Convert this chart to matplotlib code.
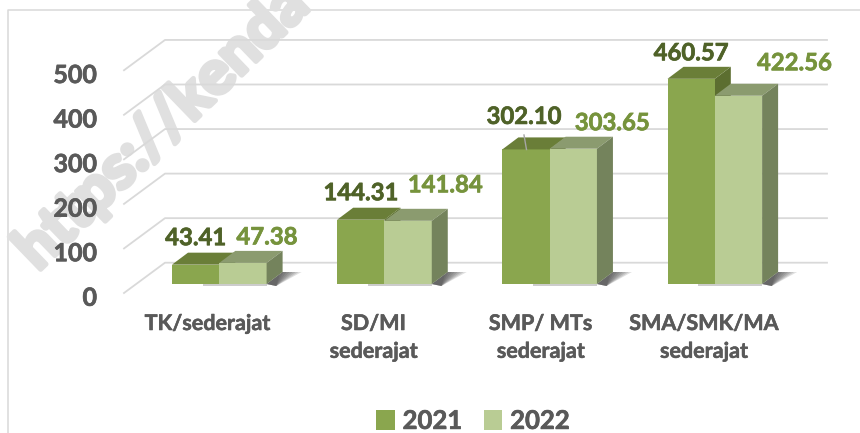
import matplotlib
matplotlib.use("Agg")
import matplotlib.pyplot as plt
import matplotlib.patheffects as pe
from matplotlib.patches import Polygon

plt.rcParams["font.family"] = ["Lato", "DejaVu Sans"]
plt.rcParams["font.weight"] = "bold"

# data
categories = ["TK/sederajat", "SD/MI\nsederajat", "SMP/ MTs\nsederajat", "SMA/SMK/MA\nsederajat"]
values_2021 = [43.41, 144.31, 302.10, 460.57]
values_2022 = [47.38, 141.84, 303.65, 422.56]
y_ticks = [0, 100, 200, 300, 400, 500]

# label offsets from top of bar, in pixels (picked by eye)
offset_2021 = [(0, 27), (0, 27), (-2, 33), (0, 26)]
offset_2022 = [(24, 26), (37, 36), (39, 26), (56, 33)]
cat_shift = [-12, -11, -9, -11]

# colours
C21, C21_TOP, C21_SIDE = "#8AA64E", "#6A7E38", "#5C6E30"
C22, C22_TOP, C22_SIDE = "#B9CC94", "#8B9B6F", "#74835C"
TXT21, TXT22, GREY, GRID = "#4F6228", "#76933C", "#595959", "#D9D9D9"

# scale: one category = 165.17 px, 100 units = 44.55 px
W, H = 860, 433
PX_X = 165.17
PX_Y = 0.4455
X0, Y0 = 219.3, 284.0
BAR_W = 47.3 / PX_X
DX = 16 / PX_X
DY = 12 / PX_Y


def xpx(p):
    return (p - X0) / PX_X


def ypx(p):
    return (Y0 - p) / PX_Y


def heavy(color, lw=0.5):
    # Lato bold comes out lighter than the original, thicken it a bit
    return [pe.withStroke(linewidth=lw, foreground=color)]


fig = plt.figure(figsize=(W / 100, H / 100), dpi=100)
ax = fig.add_axes([0, 0, 1, 1])
ax.set_xlim(xpx(0), xpx(W))
ax.set_ylim(ypx(H), ypx(0))
ax.axis("off")

# outer frame of the chart area
ax.plot([xpx(8), xpx(8), xpx(W)], [ypx(H), ypx(10), ypx(10)], color="#D9D9D9", lw=1.1, zorder=1)

# watermark
ax.text(xpx(38), ypx(272), "https://kenda", fontsize=44, color="#E0E0E0", rotation=44,
        rotation_mode="anchor", ha="left", va="baseline", zorder=1.5,
        path_effects=heavy("#E0E0E0", 3.5))

# back wall + floor lines
front_off = (293 - Y0) / PX_Y
back_off = (Y0 - 262.7) / PX_Y
for v in y_ticks:
    ax.plot([xpx(124), xpx(165), xpx(827)],
            [v - front_off, v + back_off, v + back_off],
            color=GRID, lw=1.3, zorder=2)
    ax.text(xpx(97), v - 32, str(v), fontsize=18, color=GREY, ha="right", va="center", zorder=6,
            path_effects=heavy(GREY))

xs = list(range(len(categories)))

# shadows at the foot of the bars
for i in xs:
    x_end = i + BAR_W
    for k in range(8):
        reach = (35 - k * 3) / PX_X
        ax.add_patch(Polygon([(x_end, 0), (x_end + DX, DY), (x_end + reach, DY), (x_end + DX * 0.6, -2 / PX_Y)],
                             closed=True, fc="#303030", ec="none", alpha=0.15, zorder=2.5))
    ax.fill_between([i - 0.1, x_end], -5, 0, color="#808080", alpha=0.4, lw=0, zorder=2.5)

ax.bar(xs, values_2021, width=-BAR_W, align="edge", color=C21, label="2021", zorder=4)
for i, v in enumerate(values_2021):
    left = i - BAR_W
    ax.add_patch(Polygon([(left, v), (left + DX, v + DY), (i + DX, v + DY), (i, v)],
                         closed=True, fc=C21_TOP, ec="none", zorder=4))
    ax.add_patch(Polygon([(i, 0), (i + DX, DY), (i + DX, v + DY), (i, v)],
                         closed=True, fc=C21_SIDE, ec="none", zorder=3.5))

ax.bar(xs, values_2022, width=BAR_W, align="edge", color=C22, label="2022", zorder=5)
for i, v in enumerate(values_2022):
    right = i + BAR_W
    ax.add_patch(Polygon([(i, v), (i + DX, v + DY), (right + DX, v + DY), (right, v)],
                         closed=True, fc=C22_TOP, ec="none", zorder=5))
    ax.add_patch(Polygon([(right, 0), (right + DX, DY), (right + DX, v + DY), (right, v)],
                         closed=True, fc=C22_SIDE, ec="none", zorder=5))

# data labels
for i, v in enumerate(values_2021):
    ax.annotate(f"{v:.2f}", xy=(i - BAR_W / 2, v), xytext=offset_2021[i], textcoords="offset pixels",
                fontsize=17.2, color=TXT21, ha="center", va="center", zorder=7, path_effects=heavy(TXT21))
for i, v in enumerate(values_2022):
    ax.annotate(f"{v:.2f}", xy=(i + BAR_W / 2, v), xytext=offset_2022[i], textcoords="offset pixels",
                fontsize=17.2, color=TXT22, ha="center", va="center", zorder=7, path_effects=heavy(TXT22))

# little leader line on the 302.10 label
ax.plot([2 - BAR_W / 2 - 2 / PX_X, 2 - BAR_W / 2 + 0.5 / PX_X], [ypx(135), ypx(149.5)], color="#A6A6A6", lw=1, zorder=6)

# category labels
for i, c in enumerate(categories):
    ax.text(i + cat_shift[i] / PX_X, ypx(313), c, fontsize=15.5, color=GREY, ha="center", va="top",
            linespacing=1.4, zorder=6, path_effects=heavy(GREY, 0.4))

leg = ax.legend(loc="center", bbox_to_anchor=(0.55, 0.028), ncol=2, frameon=False, fontsize=18.5,
                labelcolor=GREY, handlelength=0.72, handleheight=0.8, handletextpad=0.3,
                columnspacing=0.85, borderpad=0, borderaxespad=0)
for t in leg.get_texts():
    t.set_path_effects(heavy(GREY))

fig.savefig("out.png", dpi=100)
plt.close(fig)
